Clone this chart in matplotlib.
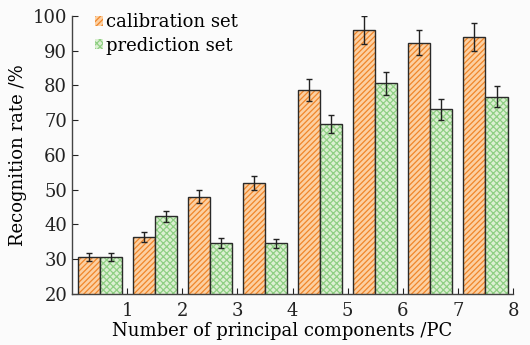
import numpy as np
import matplotlib.pyplot as plt
from matplotlib.patches import Patch

plt.rcParams['font.family'] = ['DejaVu Serif']
plt.rcParams['hatch.linewidth'] = 0.9

# data
pcs = [1, 2, 3, 4, 5, 6, 7, 8]
calib = [30.7, 36.3, 48.0, 51.8, 78.7, 96.0, 92.3, 93.9]
calib_err = [1.2, 1.4, 1.9, 2.0, 3.1, 4.0, 3.7, 4.0]
pred = [30.7, 42.3, 34.6, 34.6, 68.9, 80.6, 73.1, 76.8]
pred_err = [1.2, 1.7, 1.35, 1.3, 2.5, 3.3, 3.0, 3.1]

orange_face = '#fcd0a2'
orange_hatch = '#f0862a'
green_face = '#dcefd2'
green_hatch = '#8fcf84'
edge = '#2a2a2a'

fig = plt.figure(figsize=(5.3, 3.45), dpi=100, facecolor='#fbfbfb')
ax = fig.add_axes([0.136, 0.148, 0.832, 0.806])
ax.set_facecolor('#fbfbfb')

x = np.arange(len(pcs)) + 0.5
w = 0.4
ekw = dict(ecolor='#222222', elinewidth=1.0, capthick=1.0)

# hatched fill first, outline on top
ax.bar(x - w / 2, calib, w, color=orange_face, edgecolor=orange_hatch,
       hatch='//////', linewidth=0)
ax.bar(x - w / 2, calib, w, fill=False, edgecolor=edge, linewidth=1.0,
       yerr=calib_err, capsize=2.3, error_kw=ekw)
ax.bar(x + w / 2, pred, w, color=green_face, edgecolor=green_hatch,
       hatch='xxxxx', linewidth=0)
ax.bar(x + w / 2, pred, w, fill=False, edgecolor=edge, linewidth=1.0,
       yerr=pred_err, capsize=2.3, error_kw=ekw)

ax.set_xlim(0, 8)
ax.set_ylim(20, 100)
ax.set_xticks(pcs)
ax.set_xticklabels([str(p) for p in pcs])
ax.set_yticks(np.arange(20, 101, 10))
ax.tick_params(direction='in', length=4, labelsize=13, colors='#222222')
ax.tick_params(axis='x', pad=6)
for s in ['top', 'right']:
    ax.spines[s].set_visible(False)
for s in ['left', 'bottom']:
    ax.spines[s].set_color('#444444')
    ax.spines[s].set_linewidth(1.0)

ax.set_xlabel('Number of principal components /PC', fontsize=13)
ax.xaxis.set_label_coords(0.476, -0.102)
ax.xaxis.label.set_va('top')
ax.set_ylabel('Recognition rate /%', fontsize=13, labelpad=4)

handles = [
    Patch(facecolor=orange_face, edgecolor=orange_hatch, hatch='//////', linewidth=0),
    Patch(facecolor=green_face, edgecolor=green_hatch, hatch='xxxxx', linewidth=0),
]
ax.legend(handles, ['calibration set', 'prediction set'], loc='upper left',
          bbox_to_anchor=(0.035, 1.035), frameon=False, fontsize=13,
          handlelength=0.45, handleheight=0.45, handletextpad=0.2, labelspacing=0.3,
          borderaxespad=0)

fig.savefig('out.png', dpi=100, facecolor=fig.get_facecolor())
